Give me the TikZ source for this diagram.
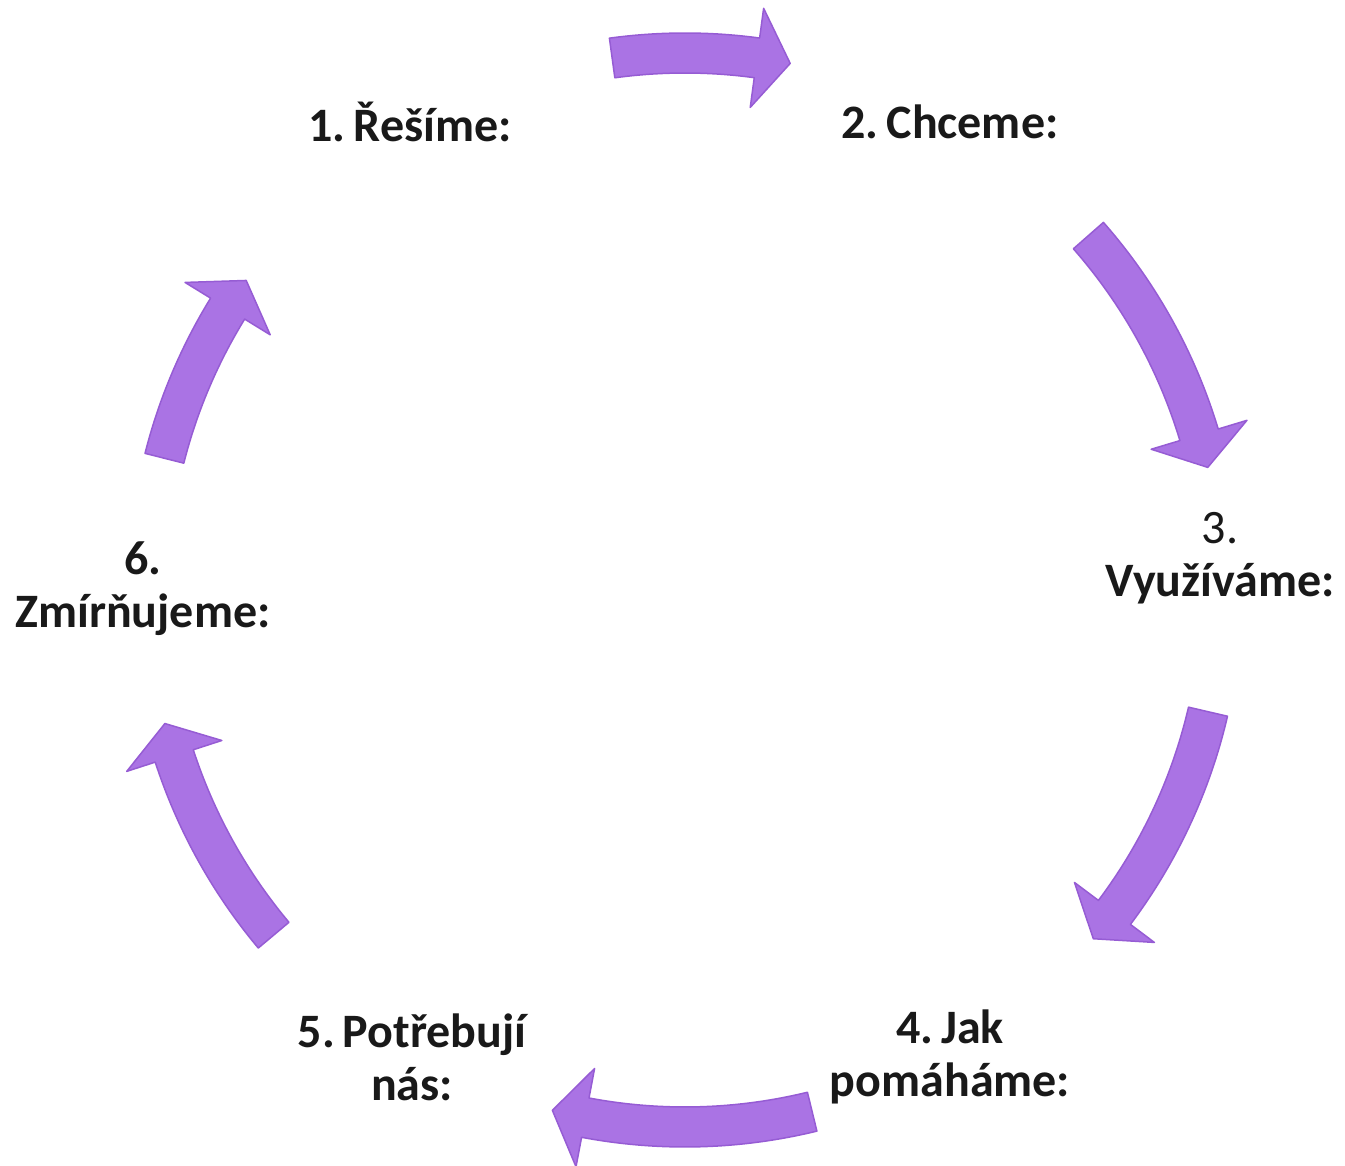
\documentclass[tikz,border=0pt]{standalone}
\usepackage{fontspec}
\setmainfont{Carlito}
\usetikzlibrary{positioning}

\definecolor{cyclepurple}{RGB}{170,115,228}
\definecolor{cycleedge}{RGB}{150,92,212}
\definecolor{labelink}{RGB}{25,25,25}

% block arrow along the cycle, clockwise from #1 to the tip at #2
\newcommand{\cyclearrow}[2]{%
  \pgfmathsetmacro{\barbangle}{#2+3.6}
  \filldraw[arrowbody] (#1:557) arc[start angle=#1, end angle=\barbangle, radius=557]
    -- (\barbangle:587) -- (#2:537) -- (\barbangle:487) -- (\barbangle:517)
    arc[start angle=\barbangle, end angle=#1, radius=517] -- cycle;
}

\begin{document}
\begin{tikzpicture}[
        x=1pt, y=1pt,
        steplabel/.style={align=center, text=labelink, inner sep=0pt,
                          font=\fontsize{48}{53}\selectfont\bfseries},
        arrowbody/.style={fill=cyclepurple, draw=cycleedge, line width=1.5pt,
                          line join=round}
    ]
    \useasboundingbox (-685,-576) rectangle (660,590);
    \coordinate (hub) at (0,0);

    \node[steplabel] (resime)   at (-275,468) {1.\,Řešíme:};
    \node[steplabel] (chceme)   at (265,468)  {2.\,Chceme:};
    \node[steplabel] (vyuzivame) at (535,32)  {\textmd{3.}\\Využíváme:};
    \node[steplabel] (pomahame) at (265,-467) {4.\,Jak\\pomáháme:};
    \node[steplabel] (potrebuji) at (-273,-467) {5.\,Potřebují\\nás:};
    \node[steplabel] (zmirnujeme) at (-542,1) {6.\\Zmírňujeme:};

    \cyclearrow{97.8}{78.7}
    \cyclearrow{41.3}{13.2}
    \cyclearrow{-13.1}{-40.5}
    \cyclearrow{-76.3}{-104.3}
    \cyclearrow{-140}{-165.6}
    \cyclearrow{165.8}{144.8}
\end{tikzpicture}
\end{document}
